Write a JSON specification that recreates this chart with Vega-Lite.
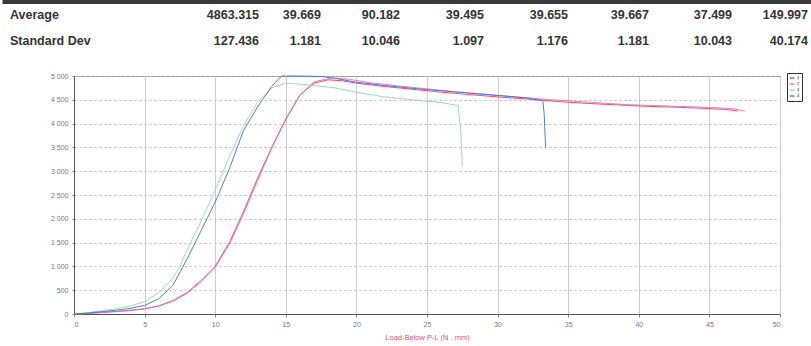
{
  "$schema": "https://vega.github.io/schema/vega-lite/v6.json",
  "padding": {"left": 0, "top": 0, "right": 0, "bottom": 0},
  "autosize": {"type": "pad"},
  "bounds": "flush",
  "spacing": 21,
  "config": {"view": {"stroke": null}, "font": "Liberation Sans"},
  "vconcat": [
    {
      "width": 706,
      "height": 55,
      "data": {"values": [
        {"kind": "bar", "c": -0.03, "c2": 8.1, "r": 0.5},
        {"kind": "label", "c": 0, "r": 1, "text": "Average"},
        {"kind": "label", "c": 0, "r": 2, "text": "Standard Dev"},
        {"kind": "value", "c": 1, "r": 1, "text": "4863.315"},
        {"kind": "value", "c": 2, "r": 1, "text": "39.669"},
        {"kind": "value", "c": 3, "r": 1, "text": "90.182"},
        {"kind": "value", "c": 4, "r": 1, "text": "39.495"},
        {"kind": "value", "c": 5, "r": 1, "text": "39.655"},
        {"kind": "value", "c": 6, "r": 1, "text": "39.667"},
        {"kind": "value", "c": 7, "r": 1, "text": "37.499"},
        {"kind": "value", "c": 8, "r": 1, "text": "149.997"},
        {"kind": "value", "c": 1, "r": 2, "text": "127.436"},
        {"kind": "value", "c": 2, "r": 2, "text": "1.181"},
        {"kind": "value", "c": 3, "r": 2, "text": "10.046"},
        {"kind": "value", "c": 4, "r": 2, "text": "1.097"},
        {"kind": "value", "c": 5, "r": 2, "text": "1.176"},
        {"kind": "value", "c": 6, "r": 2, "text": "1.181"},
        {"kind": "value", "c": 7, "r": 2, "text": "10.043"},
        {"kind": "value", "c": 8, "r": 2, "text": "40.174"}
      ]},
      "layer": [
        {
          "transform": [{"filter": "datum.kind === 'bar'"}],
          "mark": {"type": "rule", "color": "#3a3a3a", "strokeWidth": 4},
          "encoding": {
            "x": {"field": "c", "type": "quantitative", "axis": null,
                  "scale": {"domain": [0, 1, 2, 3, 4, 5, 6, 7, 8], "range": [-64, 185, 247, 326, 410, 494, 575, 658, 734], "nice": false, "zero": false}},
            "x2": {"field": "c2"},
            "y": {"field": "r", "type": "quantitative", "axis": null,
                  "scale": {"domain": [0, 2], "range": [-11, 41], "nice": false, "zero": false}}
          }
        },
        {
          "transform": [{"filter": "datum.kind === 'label'"}],
          "mark": {"type": "text", "align": "left", "baseline": "middle", "fontSize": 12.5, "fontWeight": "bold", "color": "#333333"},
          "encoding": {
            "x": {"field": "c", "type": "quantitative", "axis": null},
            "y": {"field": "r", "type": "quantitative", "axis": null},
            "text": {"field": "text"}
          }
        },
        {
          "transform": [{"filter": "datum.kind === 'value'"}],
          "mark": {"type": "text", "align": "right", "baseline": "middle", "fontSize": 12.5, "fontWeight": "bold", "color": "#333333"},
          "encoding": {
            "x": {"field": "c", "type": "quantitative", "axis": null},
            "y": {"field": "r", "type": "quantitative", "axis": null},
            "text": {"field": "text"}
          }
        }
      ]
    },
    {
      "width": 706,
      "height": 238,
      "view": {"stroke": "#999999", "strokeWidth": 1},
      "data": {"values": [
        {"s": "1", "x": 0, "y": 0}, {"s": "1", "x": 1, "y": 15}, {"s": "1", "x": 2, "y": 35}, {"s": "1", "x": 3, "y": 55},
        {"s": "1", "x": 4, "y": 80}, {"s": "1", "x": 5, "y": 110}, {"s": "1", "x": 6, "y": 170}, {"s": "1", "x": 7, "y": 280},
        {"s": "1", "x": 8, "y": 450}, {"s": "1", "x": 9, "y": 700}, {"s": "1", "x": 10, "y": 1000}, {"s": "1", "x": 11, "y": 1500},
        {"s": "1", "x": 12, "y": 2150}, {"s": "1", "x": 13, "y": 2850}, {"s": "1", "x": 14, "y": 3500}, {"s": "1", "x": 15, "y": 4100},
        {"s": "1", "x": 16, "y": 4600}, {"s": "1", "x": 17, "y": 4850}, {"s": "1", "x": 18, "y": 4920}, {"s": "1", "x": 19, "y": 4900},
        {"s": "1", "x": 20, "y": 4850}, {"s": "1", "x": 22, "y": 4780}, {"s": "1", "x": 24, "y": 4720}, {"s": "1", "x": 26, "y": 4660},
        {"s": "1", "x": 28, "y": 4610}, {"s": "1", "x": 30, "y": 4560}, {"s": "1", "x": 32, "y": 4520}, {"s": "1", "x": 34, "y": 4470},
        {"s": "1", "x": 36, "y": 4430}, {"s": "1", "x": 38, "y": 4400}, {"s": "1", "x": 40, "y": 4370}, {"s": "1", "x": 42, "y": 4350},
        {"s": "1", "x": 44, "y": 4330}, {"s": "1", "x": 46, "y": 4300}, {"s": "1", "x": 47, "y": 4270},

        {"s": "2", "x": 0, "y": 0}, {"s": "2", "x": 1, "y": 12}, {"s": "2", "x": 2, "y": 30}, {"s": "2", "x": 3, "y": 50},
        {"s": "2", "x": 4, "y": 75}, {"s": "2", "x": 5, "y": 105}, {"s": "2", "x": 6, "y": 165}, {"s": "2", "x": 7, "y": 270},
        {"s": "2", "x": 8, "y": 430}, {"s": "2", "x": 9, "y": 680}, {"s": "2", "x": 10, "y": 980}, {"s": "2", "x": 11, "y": 1460},
        {"s": "2", "x": 12, "y": 2100}, {"s": "2", "x": 13, "y": 2800}, {"s": "2", "x": 14, "y": 3480}, {"s": "2", "x": 15, "y": 4080},
        {"s": "2", "x": 16, "y": 4600}, {"s": "2", "x": 17, "y": 4880}, {"s": "2", "x": 18.3, "y": 4960}, {"s": "2", "x": 19.5, "y": 4930},
        {"s": "2", "x": 21, "y": 4860}, {"s": "2", "x": 23, "y": 4790}, {"s": "2", "x": 25, "y": 4730}, {"s": "2", "x": 27, "y": 4670},
        {"s": "2", "x": 29, "y": 4620}, {"s": "2", "x": 31, "y": 4570}, {"s": "2", "x": 33, "y": 4520}, {"s": "2", "x": 35, "y": 4480},
        {"s": "2", "x": 37, "y": 4440}, {"s": "2", "x": 39, "y": 4400}, {"s": "2", "x": 41, "y": 4380}, {"s": "2", "x": 43, "y": 4360},
        {"s": "2", "x": 45, "y": 4340}, {"s": "2", "x": 46.8, "y": 4310}, {"s": "2", "x": 47.5, "y": 4260},

        {"s": "3", "x": 0, "y": 0}, {"s": "3", "x": 1, "y": 30}, {"s": "3", "x": 2, "y": 70}, {"s": "3", "x": 3, "y": 110},
        {"s": "3", "x": 4, "y": 170}, {"s": "3", "x": 5, "y": 260}, {"s": "3", "x": 6, "y": 450}, {"s": "3", "x": 7, "y": 750},
        {"s": "3", "x": 7.5, "y": 1000}, {"s": "3", "x": 8, "y": 1350}, {"s": "3", "x": 9, "y": 1950}, {"s": "3", "x": 10, "y": 2600},
        {"s": "3", "x": 11, "y": 3300}, {"s": "3", "x": 12, "y": 3950}, {"s": "3", "x": 13, "y": 4450}, {"s": "3", "x": 14, "y": 4750},
        {"s": "3", "x": 15, "y": 4850}, {"s": "3", "x": 16, "y": 4830}, {"s": "3", "x": 17, "y": 4800}, {"s": "3", "x": 18.5, "y": 4750},
        {"s": "3", "x": 20, "y": 4660}, {"s": "3", "x": 22, "y": 4560}, {"s": "3", "x": 24, "y": 4500}, {"s": "3", "x": 26, "y": 4440},
        {"s": "3", "x": 27.2, "y": 4380}, {"s": "3", "x": 27.4, "y": 3800}, {"s": "3", "x": 27.5, "y": 3100},

        {"s": "4", "x": 0, "y": 0}, {"s": "4", "x": 1, "y": 20}, {"s": "4", "x": 2, "y": 50}, {"s": "4", "x": 3, "y": 80},
        {"s": "4", "x": 4, "y": 120}, {"s": "4", "x": 5, "y": 180}, {"s": "4", "x": 6, "y": 320}, {"s": "4", "x": 7, "y": 600},
        {"s": "4", "x": 8, "y": 1150}, {"s": "4", "x": 9, "y": 1750}, {"s": "4", "x": 10, "y": 2350}, {"s": "4", "x": 11, "y": 3050},
        {"s": "4", "x": 12, "y": 3850}, {"s": "4", "x": 13, "y": 4350}, {"s": "4", "x": 14, "y": 4780}, {"s": "4", "x": 14.7, "y": 5000},
        {"s": "4", "x": 16, "y": 5000}, {"s": "4", "x": 17.5, "y": 4990}, {"s": "4", "x": 18.5, "y": 4950}, {"s": "4", "x": 20, "y": 4870},
        {"s": "4", "x": 22, "y": 4800}, {"s": "4", "x": 24, "y": 4740}, {"s": "4", "x": 26, "y": 4690}, {"s": "4", "x": 28, "y": 4640},
        {"s": "4", "x": 30, "y": 4590}, {"s": "4", "x": 32, "y": 4540}, {"s": "4", "x": 33.2, "y": 4480}, {"s": "4", "x": 33.3, "y": 4200},
        {"s": "4", "x": 33.4, "y": 3500}
      ]},
      "mark": {"type": "line", "strokeWidth": 1, "opacity": 0.9},
      "encoding": {
        "x": {"field": "x", "type": "quantitative",
              "scale": {"domain": [0, 50], "nice": false},
              "axis": {"values": [0, 5, 10, 15, 20, 25, 30, 35, 40, 45, 50], "title": "Load-Below P-L      (N , mm)",
                       "titleColor": "#e0507a", "titleFontSize": 7.5, "titleFontWeight": "normal", "titlePadding": 6,
                       "labelFontSize": 7, "labelColor": "#777777", "labelPadding": 3, "tickSize": 3, "tickColor": "#888888",
                       "grid": true, "gridColor": "#cccccc", "domainColor": "#555555"}},
        "y": {"field": "y", "type": "quantitative",
              "scale": {"domain": [0, 5000], "nice": false},
              "axis": {"values": [0, 500, 1000, 1500, 2000, 2500, 3000, 3500, 4000, 4500, 5000], "title": null,
                       "labelExpr": "replace(format(datum.value, ','), ',', ' ')",
                       "labelFontSize": 7, "labelColor": "#777777", "labelPadding": 4, "tickSize": 2, "tickColor": "#888888",
                       "grid": true, "gridColor": "#bbbbbb", "gridDash": [2, 3], "domainColor": "#555555"}},
        "color": {"field": "s", "type": "nominal",
                  "scale": {"domain": ["1", "2", "3", "4"], "range": ["#e8404a", "#e070c8", "#8fd8a8", "#3f6fd8"]},
                  "legend": {"orient": "none", "legendX": 713, "legendY": 73, "title": null, "direction": "vertical",
                             "strokeColor": "#333333", "fillColor": "#ffffff", "padding": 2, "rowPadding": 0,
                             "labelFontSize": 4, "symbolType": "stroke", "symbolSize": 20, "symbolStrokeWidth": 1.5, "labelOffset": 2}}
      }
    }
  ]
}
